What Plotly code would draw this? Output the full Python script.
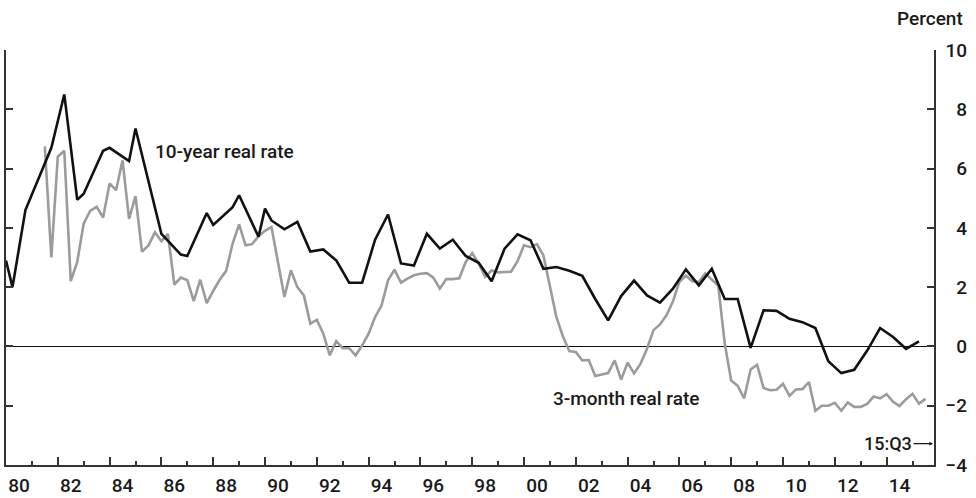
import plotly.graph_objects as go

# ---------------- data ----------------
# 10-year real rate (vertex quarters and values)
ten_year_quarters = [
    "1980Q1", "1980Q2", "1980Q4", "1981Q4", "1982Q2", "1982Q4", "1983Q1", "1983Q4",
    "1984Q1", "1984Q4", "1985Q1", "1986Q1", "1986Q4", "1987Q1", "1987Q4", "1988Q1",
    "1988Q4", "1989Q1", "1989Q4", "1990Q1", "1990Q2", "1990Q4", "1991Q2", "1991Q4",
    "1992Q2", "1992Q4", "1993Q2", "1993Q4", "1994Q2", "1994Q4", "1995Q2", "1995Q4",
    "1996Q2", "1996Q4", "1997Q2", "1997Q4", "1998Q2", "1998Q4", "1999Q2", "1999Q4",
    "2000Q2", "2000Q4", "2001Q2", "2001Q4", "2002Q2", "2002Q4", "2003Q2", "2003Q4",
    "2004Q2", "2004Q4", "2005Q2", "2005Q4", "2006Q2", "2006Q4", "2007Q2", "2007Q4",
    "2008Q2", "2008Q4", "2009Q2", "2009Q4", "2010Q2", "2010Q4", "2011Q2", "2011Q4",
    "2012Q2", "2012Q4", "2013Q2", "2013Q4", "2014Q2", "2014Q4", "2015Q2",
]
ten_year_values = [
    2.9, 2.0, 4.6, 6.7, 8.5, 4.95, 5.15, 6.6,
    6.7, 6.25, 7.35, 3.8, 3.1, 3.05, 4.5, 4.1,
    4.7, 5.1, 3.7, 4.65, 4.25, 3.95, 4.2, 3.2,
    3.27, 2.9, 2.15, 2.15, 3.6, 4.45, 2.8, 2.73,
    3.8, 3.3, 3.6, 3.05, 2.82, 2.2, 3.3, 3.78,
    3.58, 2.62, 2.68, 2.55, 2.38, 1.6, 0.88, 1.7,
    2.22, 1.72, 1.48, 1.95, 2.6, 2.06, 2.62, 1.6,
    1.6, -0.05, 1.22, 1.2, 0.93, 0.82, 0.62, -0.5,
    -0.9, -0.79, -0.14, 0.62, 0.32, -0.08, 0.17,
]

# 3-month real rate, quarterly from 1981Q3 to 2015Q3
three_month_start = "1981Q3"
three_month_values = [
    6.75, 3.0,                      # 1981 Q3-Q4
    6.4, 6.6, 2.2, 2.85,            # 1982
    4.15, 4.57, 4.71, 4.35,         # 1983
    5.5, 5.27, 6.28, 4.3,           # 1984
    5.07, 3.2, 3.41, 3.85,          # 1985
    3.55, 3.8, 2.09, 2.32,          # 1986
    2.23, 1.53, 2.25, 1.46,         # 1987
    1.87, 2.25, 2.55, 3.47,         # 1988
    4.12, 3.41, 3.45, 3.72,         # 1989
    3.9, 4.03, 2.85, 1.67,          # 1990
    2.57, 2.0, 1.72, 0.77,          # 1991
    0.9, 0.43, -0.3, 0.18,          # 1992
    -0.06, -0.06, -0.3, 0.03,       # 1993
    0.43, 0.99, 1.38, 2.23,         # 1994
    2.59, 2.15, 2.29, 2.4,          # 1995
    2.45, 2.47, 2.32, 1.95,         # 1996
    2.27, 2.27, 2.3, 2.85,          # 1997
    3.15, 2.8, 2.35, 2.56,          # 1998
    2.5, 2.5, 2.52, 2.88,           # 1999
    3.41, 3.35, 3.45, 3.07,         # 2000
    2.0, 1.0, 0.34, -0.16,          # 2001
    -0.19, -0.47, -0.46, -1.0,      # 2002
    -0.95, -0.9, -0.47, -1.12,      # 2003
    -0.55, -0.91, -0.58, -0.08,     # 2004
    0.55, 0.74, 1.05, 1.52,         # 2005
    2.18, 2.39, 2.2, 2.17,          # 2006
    2.46, 2.25, 2.05, 0.1,          # 2007
    -1.15, -1.33, -1.75, -0.78,     # 2008
    -0.62, -1.4, -1.48, -1.46,      # 2009
    -1.26, -1.67, -1.45, -1.44,     # 2010
    -1.2, -2.17, -2.0, -2.0,        # 2011
    -1.9, -2.17, -1.89, -2.04,      # 2012
    -2.04, -1.94, -1.69, -1.75,     # 2013
    -1.61, -1.87, -2.01, -1.78,     # 2014
    -1.6, -1.93, -1.77,             # 2015 Q1-Q3
]

year_labels = ["80", "82", "84", "86", "88", "90", "92", "94", "96", "98",
               "00", "02", "04", "06", "08", "10", "12", "14"]
label_years = [1980 + 2 * i for i in range(len(year_labels))]
y_ticks = [-4, -2, 0, 2, 4, 6, 8, 10]
y_tick_text = ["\u22124", "\u22122", "\u20070", "\u20072", "\u20074", "\u20076", "\u20078", "10"]


def qpos(label):
    return int(label[:4]) + (int(label[-1]) - 1) / 4.0


ten_x = [qpos(q) for q in ten_year_quarters]
start = qpos(three_month_start)
three_x = [start + 0.25 * i for i in range(len(three_month_values))]

X_MIN, X_MAX = 1980.0, 2015.83
FONT = "Roboto"
TXT = "#1a1a1a"


def f(size=19):
    return dict(family=FONT, size=size, color=TXT, weight=500)


fig = go.Figure()
fig.add_trace(go.Scatter(x=three_x, y=three_month_values, mode="lines",
                         line=dict(color="#9b9b9b", width=2.6), hoverinfo="skip",
                         showlegend=False))
fig.add_trace(go.Scatter(x=ten_x, y=ten_year_values, mode="lines",
                         line=dict(color="#111111", width=2.6), hoverinfo="skip",
                         showlegend=False))
# carrier trace for the label axis
fig.add_trace(go.Scatter(x=[X_MIN, X_MAX], y=[0, 0], xaxis="x2", mode="lines",
                         line=dict(width=0), opacity=0, hoverinfo="skip",
                         showlegend=False))

fig.update_layout(
    width=976, height=498,
    margin=dict(l=6, r=42, t=50, b=33, autoexpand=False),
    paper_bgcolor="white", plot_bgcolor="white",
    font=f(),
    xaxis=dict(
        range=[X_MIN, X_MAX], showgrid=False, zeroline=False, automargin=False,
        showline=True, linecolor="#333333", linewidth=1.5,
        ticks="inside", tickvals=label_years, ticklen=8, tickwidth=1.5,
        tickcolor="#333333", showticklabels=False,
        minor=dict(tickvals=[y + 1 for y in label_years], ticks="inside",
                   ticklen=4, tickwidth=1.5, tickcolor="#333333"),
    ),
    xaxis2=dict(
        range=[X_MIN, X_MAX], matches="x", overlaying="x", anchor="y", side="bottom",
        showgrid=False, zeroline=False, showline=False, ticks="", automargin=False,
        tickvals=[y + 0.5 for y in label_years], ticktext=year_labels,
        ticklabelstandoff=7, tickfont=f(),
    ),
    yaxis=dict(
        range=[-4, 10], side="right", showgrid=False, automargin=False,
        zeroline=True, zerolinecolor="#111111", zerolinewidth=1.3,
        showline=True, linecolor="#333333", linewidth=1.5, mirror="ticks",
        ticks="inside", ticklen=7, tickwidth=1.5, tickcolor="#333333",
        tickvals=y_ticks, ticktext=y_tick_text, ticklabelstandoff=6,
        tickfont=f(),
    ),
    annotations=[
        dict(text="Percent", xref="paper", yref="paper", x=1.0334, y=1.077,
             xanchor="right", yanchor="middle", showarrow=False, font=f()),
        dict(text="10-year real rate", xref="x", yref="y", x=1985.67, y=6.59,
             xanchor="left", yanchor="middle", showarrow=False, font=f()),
        dict(text="3-month real rate", xref="x", yref="y", x=2001.06, y=-1.76,
             xanchor="left", yanchor="middle", showarrow=False, font=f()),
        dict(text="15:Q3", xref="x", yref="y", x=X_MAX, y=-3.28,
             ax=-46, ay=0, showarrow=True, arrowhead=2, arrowsize=0.6,
             arrowwidth=1.2, arrowcolor=TXT, standoff=1, font=f(18)),
    ],
)

fig.write_html("out.html", config={"displayModeBar": False},
               post_script="document.body.style.margin='0px';document.body.style.padding='0px';")
